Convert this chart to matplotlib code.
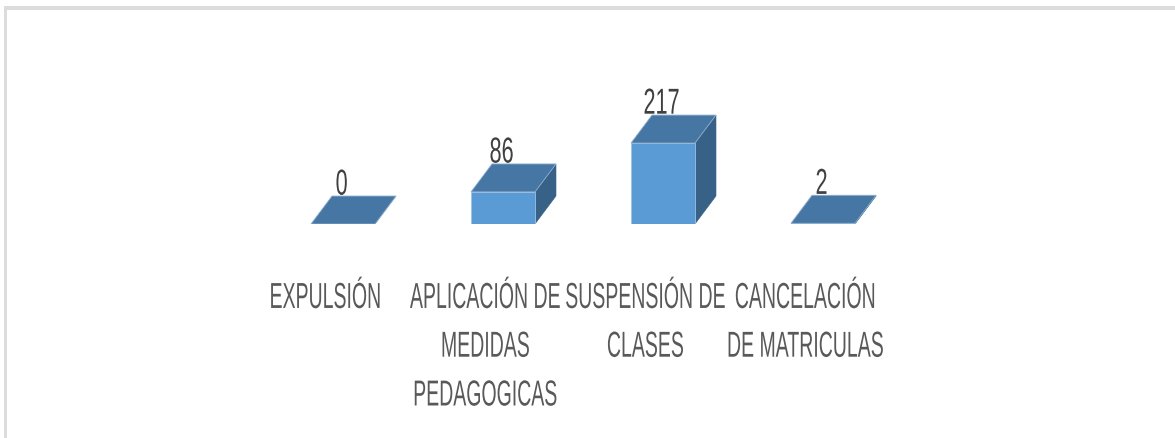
import matplotlib
matplotlib.use('Agg')
import matplotlib.pyplot as plt
import matplotlib.patches as patches
from matplotlib.patheffects import AbstractPathEffect
from matplotlib.transforms import Affine2D, Bbox

plt.rcParams['font.family'] = ['Liberation Sans', 'DejaVu Sans']

categories = ['EXPULSIÓN', 'APLICACIÓN DE\nMEDIDAS\nPEDAGOGICAS', 'SUSPENSIÓN DE\nCLASES', 'CANCELACIÓN\nDE MATRICULAS']
values = [0, 86, 217, 2]


# No condensed font installed, so squeeze the glyphs sideways around the text anchor
class Squeeze(AbstractPathEffect):
    def __init__(self, text, sx):
        super().__init__()
        self.text = text
        self.sx = sx

    def anchor(self):
        return self.text.get_transform().transform(self.text.get_unitless_position())[0]

    def draw_path(self, renderer, gc, tpath, affine, rgbFace=None):
        cx = self.anchor()
        squeeze = Affine2D().translate(-cx, 0).scale(self.sx, 1).translate(cx, 0)
        renderer.draw_path(gc, tpath, affine + squeeze, rgbFace)


def condense(text, sx):
    effect = Squeeze(text, sx)
    text.set_path_effects([effect])
    full_extent = text.get_window_extent

    # report the width that is really drawn
    def narrow_extent(renderer=None, dpi=None):
        box = full_extent(renderer, dpi)
        cx = effect.anchor()
        return Bbox.from_extents(cx + (box.x0 - cx) * sx, box.y0, cx + (box.x1 - cx) * sx, box.y1)

    text.get_window_extent = narrow_extent


W, H = 1175, 439
fig = plt.figure(figsize=(W / 100, H / 100), dpi=100)
fig.patch.set_facecolor('#ffffff')

# Grey frame, top and left only
fig.add_artist(patches.Rectangle((4 / W, 0), 2.5 / W, 1 - 7 / H, transform=fig.transFigure, fc='#dcdcdc', ec='none'))
fig.add_artist(patches.Rectangle((4 / W, 1 - 11 / H), 1 - 4 / W, 4 / H, transform=fig.transFigure, fc='#dcdcdc', ec='none'))

# Axes placed in pixels: 160 px per category, 0.373 px per unit
left, right = 263.0, 903.0
base, top = 225.0, 225.0 - 320 * 0.373
ax = fig.add_axes([left / W, 1 - base / H, (right - left) / W, (base - top) / H])
ax.set_xlim(-0.5, 3.5)
ax.set_ylim(0, 320)
ax.patch.set_alpha(0)
for s in ax.spines.values():
    s.set_visible(False)
ax.set_yticks([])

bar_w = 0.4
dx = 21 / 160
dy = 75

for i, v in enumerate(values):
    x0, x1 = i - bar_w / 2, i + bar_w / 2
    ax.bar(i, v, width=bar_w, color='#5b9bd5', edgecolor='#9cc3e6', linewidth=0.6, zorder=2)
    ax.add_patch(patches.Polygon([(x1, 0), (x1 + dx, dy), (x1 + dx, v + dy), (x1, v)],
                                 fc='#376186', ec='#376186', lw=0.4, zorder=1))
    ax.add_patch(patches.Polygon([(x0, v), (x1, v), (x1 + dx, v + dy), (x0 + dx, v + dy)],
                                 fc='#4676a3', ec='#8fb0cf', lw=0.6, zorder=3))
    t = ax.annotate(str(v), xy=(i, v + dy), xytext=(-1, 1), textcoords='offset points',
                    ha='center', va='baseline', fontsize=26, color='#404040', annotation_clip=False)
    condense(t, 0.6)

ax.set_xticks([i - 0.11 for i in range(len(categories))])
ax.set_xticklabels(categories, fontsize=26, color='#595959', linespacing=1.51)
ax.tick_params(axis='x', length=0, pad=41)
for lab in ax.get_xticklabels():
    condense(lab, 0.54)

fig.savefig('out.png', dpi=100)
plt.close(fig)
